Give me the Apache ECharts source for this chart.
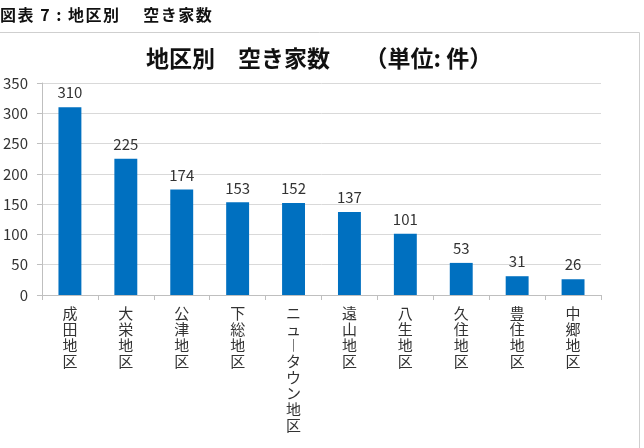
<!DOCTYPE html>
<html>
<head>
<meta charset="utf-8">
<script src="https://cdn.jsdelivr.net/npm/echarts@6/dist/echarts.min.js"></script>
<style>
  html, body { margin: 0; padding: 0; background: #fff; }
  #wrap { position: relative; width: 644px; height: 448px; }
  #chart { width: 644px; height: 448px; }
  #caption {
    position: absolute; left: 0; top: 2px; z-index: 2;
    font: bold 16px "Noto Sans CJK JP", sans-serif; letter-spacing: 1.5px;
    color: #111; white-space: pre;
  }
</style>
</head>
<body>
<div id="wrap">
  <div id="caption">図表 7 : 地区別　 空き家数</div>
  <div id="chart"></div>
</div>
<script>
const districts = ['成田地区', '大栄地区', '公津地区', '下総地区', 'ニュータウン地区', '遠山地区', '八生地区', '久住地区', '豊住地区', '中郷地区'];
const vacantHouses = [310, 225, 174, 153, 152, 137, 101, 53, 31, 26];
const yTicks = { min: 0, max: 350, interval: 50 };

const font = '"Noto Sans CJK JP", "Noto Sans", sans-serif';

// vertical label: one char per line, long vowel mark drawn in its vertical form
function verticalLabel(s) {
  return s.split('').map(c => (c === 'ー' ? '︱' : c)).join('\n');
}

const chart = echarts.init(document.getElementById('chart'));
chart.setOption({
  backgroundColor: '#fff',
  animation: false,
  textStyle: { fontFamily: font },
  graphic: [
    {
      type: 'polyline', silent: true,
      shape: { points: [[0, 32.5], [639.5, 32.5], [639.5, 448]] },
      style: { stroke: '#cfcfcf', lineWidth: 1, fill: null }
    }
  ],
  title: {
    text: '地区別　空き家数　　（単位: 件）',
    left: 141, top: 42,
    textStyle: { fontFamily: font, fontSize: 23, fontWeight: 'bold', color: '#111' }
  },
  grid: { left: 41, right: 43, top: 83, bottom: 153 },
  xAxis: {
    type: 'category',
    data: districts,
    axisLine: { lineStyle: { color: '#bfbfbf' } },
    axisTick: { show: true, length: 5, lineStyle: { color: '#bfbfbf' } },
    axisLabel: {
      interval: 0, margin: 10, color: '#333', fontSize: 15, lineHeight: 16,
      verticalAlign: 'top', fontFamily: font,
      formatter: verticalLabel
    }
  },
  yAxis: {
    type: 'value',
    min: yTicks.min, max: yTicks.max, interval: yTicks.interval,
    axisLine: { show: true, lineStyle: { color: '#bfbfbf' } },
    axisTick: { show: true, length: 5, lineStyle: { color: '#bfbfbf' } },
    axisLabel: { color: '#333', fontSize: 15, margin: 14, fontFamily: font },
    splitLine: { lineStyle: { color: '#d9d9d9' } }
  },
  series: [{
    type: 'bar',
    data: vacantHouses,
    barWidth: '41%',
    itemStyle: { color: '#0070c0' },
    label: {
      show: true, position: 'top', distance: 7,
      color: '#333', fontSize: 15, fontFamily: font
    }
  }]
});
</script>
</body>
</html>
